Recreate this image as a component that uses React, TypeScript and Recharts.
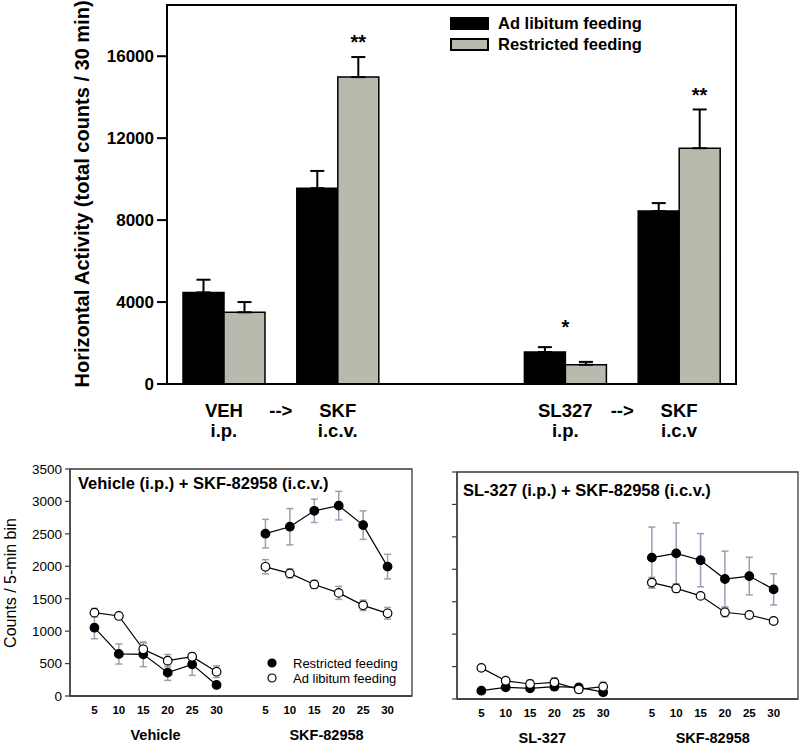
import React from 'react';
import {
  BarChart,
  Bar,
  XAxis,
  YAxis,
  ErrorBar,
  Legend,
  ReferenceDot,
  ReferenceArea,
  Label,
  ScatterChart,
  Scatter,
} from 'recharts';

const FONT = '"Liberation Sans", Arial, Helvetica, sans-serif';
const GRAY_BAR = '#b9b9ad';
const ERR_COLOR = '#9d9db8';
const FRAME = '#3a3a3a';

// ---------- Top chart: total horizontal activity ----------
const groupKeys = ['VEH', 'SKF_A', 'GAP', 'SL327', 'SKF_B'];
const drugLabels = ['VEH', 'SKF', '', 'SL327', 'SKF'];
const routeLabels = ['i.p.', 'i.c.v.', '', 'i.p.', 'i.c.v'];
const arrowAfter = [true, false, false, true, false];
const adLibTotals = [4470, 9560, null, 1560, 8440];
const adLibTotalsErr = [620, 840, null, 240, 390];
const restrictedTotals = [3500, 14980, null, 940, 11510];
const restrictedTotalsErr = [500, 980, null, 140, 1890];
const topYTicks = [0, 4000, 8000, 12000, 16000];

const sigKeys = ['SKF_A', 'SL327', 'SKF_B'];
const sigText = ['**', '*', '**'];
const sigLevel = [16700, 2800, 14100];
const sigOnRestricted = [true, false, true];

// ---------- Bottom charts: 5-min bins ----------
const firstBlockBins = [1, 2, 3, 4, 5, 6];
const secondBlockBins = [8, 9, 10, 11, 12, 13];
const binMinutes = [5, 10, 15, 20, 25, 30];
const bottomYTicks = [0, 500, 1000, 1500, 2000, 2500, 3000, 3500];
const groupLabelPos = [3.5, 10.5];
const dotLegendNames = ['Restricted feeding', 'Ad libitum feeding'];

// Vehicle (i.p.) + SKF-82958 (i.c.v.)
const leftGroupNames = ['Vehicle', 'SKF-82958'];
const vehRestricted = [1053, 648, 643, 360, 488, 170];
const vehRestrictedErr = [170, 155, 190, 120, 170, 30];
const vehAdlib = [1285, 1234, 720, 545, 606, 375];
const vehAdlibErr = [65, 25, 100, 95, 45, 90];
const skfARestricted = [2503, 2610, 2855, 2935, 2635, 1995];
const skfARestrictedErr = [220, 280, 180, 220, 220, 190];
const skfAAdlib = [1992, 1890, 1720, 1590, 1398, 1275];
const skfAAdlibErr = [110, 70, 60, 100, 80, 90];

// SL-327 (i.p.) + SKF-82958 (i.c.v.)
const rightGroupNames = ['SL-327', 'SKF-82958'];
const slRestricted = [128, 180, 165, 190, 178, 105];
const slRestrictedErr = [30, 40, 45, 50, 45, 45];
const slAdlib = [480, 282, 231, 257, 149, 190];
const slAdlibErr = [25, 40, 60, 70, 60, 70];
const skfBRestricted = [2180, 2245, 2140, 1850, 1895, 1690];
const skfBRestrictedErr = [470, 470, 410, 430, 290, 240];
const skfBAdlib = [1795, 1705, 1590, 1337, 1295, 1203];
const skfBAdlibErr = [80, 60, 40, 70, 50, 50];

const topData = groupKeys.map((key, i) => ({
  key,
  adlib: adLibTotals[i],
  restricted: restrictedTotals[i],
  adlibErr: adLibTotalsErr[i] == null ? null : [0, adLibTotalsErr[i]],
  restrictedErr: restrictedTotalsErr[i] == null ? null : [0, restrictedTotalsErr[i]],
}));

const series = (bins: number[], vals: number[], errs: number[]) =>
  bins.map((t, i) => ({ t, v: vals[i], e: errs[i] }));

const minuteFor = (t: number) => {
  let i = firstBlockBins.indexOf(t);
  if (i < 0) i = secondBlockBins.indexOf(t);
  return i < 0 ? '' : String(binMinutes[i]);
};

const TopTick = (props: any) => {
  const { x, y, payload, width } = props;
  const i = groupKeys.indexOf(payload.value);
  const w = typeof width === 'number' && width > 0 ? width : 569;
  const half = w / groupKeys.length / 2;
  const st = { fontFamily: FONT, fontWeight: 700, fontSize: 18.5, fill: '#000' } as any;
  return (
    <g>
      <text x={x} y={y + 33} textAnchor="middle" {...st}>{drugLabels[i]}</text>
      <text x={x} y={y + 53} textAnchor="middle" {...st}>{routeLabels[i]}</text>
      {arrowAfter[i] ? (
        <text x={x + half} y={y + 33} textAnchor="middle" {...st}>{'-->'}</text>
      ) : null}
    </g>
  );
};

const makeBinTick = (groupNames: string[]) => (props: any) => {
  const { x, y, payload, width } = props;
  const t = payload.value;
  const w = typeof width === 'number' && width > 0 ? width : 342;
  const step = w / 14;
  const block = t === firstBlockBins[0] ? 0 : t === secondBlockBins[0] ? 1 : -1;
  const firstBin = block === 0 ? firstBlockBins[0] : secondBlockBins[0];
  return (
    <g>
      <text
        x={x}
        y={y + 8.2}
        textAnchor="middle"
        fontFamily={FONT}
        fontWeight={700}
        fontSize={11.5}
        fill="#000"
      >
        {minuteFor(t)}
      </text>
      {block >= 0 ? (
        <text
          x={x + (groupLabelPos[block] - firstBin) * step}
          y={y + 34}
          textAnchor="middle"
          fontFamily={FONT}
          fontWeight={700}
          fontSize={14.5}
          fill="#000"
        >
          {groupNames[block]}
        </text>
      ) : null}
    </g>
  );
};

const TopLegend = (props: any) => {
  const payload = props.payload || [];
  return (
    <div>
      {payload.map((p: any) => (
        <div key={p.value} style={{ display: 'flex', alignItems: 'center', height: 21 }}>
          <div
            style={{
              width: 39,
              height: 13,
              background: p.color,
              border: '2px solid #000',
              boxSizing: 'border-box',
            }}
          />
          <span
            style={{
              marginLeft: 9,
              fontWeight: 700,
              fontSize: 16.5,
              fontFamily: FONT,
              color: '#000',
              whiteSpace: 'nowrap',
            }}
          >
            {p.value}
          </span>
        </div>
      ))}
    </div>
  );
};

const DotLegend = (props: any) => {
  const payload = props.payload || [];
  const items = dotLegendNames
    .map((n) => payload.find((p: any) => p.value === n))
    .filter(Boolean);
  return (
    <div>
      {items.map((p: any) => (
        <div key={p.value} style={{ display: 'flex', alignItems: 'center', height: 15 }}>
          <svg width={10} height={10}>
            <circle cx={5} cy={5} r={4} fill={p.color} stroke="#000" strokeWidth={1.2} />
          </svg>
          <span
            style={{
              marginLeft: 16,
              fontSize: 13,
              fontFamily: FONT,
              color: '#000',
              whiteSpace: 'nowrap',
            }}
          >
            {p.value}
          </span>
        </div>
      ))}
    </div>
  );
};

const Marker = (props: any) => {
  const { cx, cy, fill } = props;
  if (cx == null || cy == null) return null;
  return <circle cx={cx} cy={cy} r={4.3} fill={fill} stroke="#000" strokeWidth={1.2} />;
};

const BinChart = (props: {
  width: number;
  marginTop: number;
  marginRight: number;
  yAxisWidth: number;
  showYLabels: boolean;
  xAxisHeight: number;
  groupNames: string[];
  restrictedA: any[];
  restrictedB: any[];
  adlibA: any[];
  adlibB: any[];
  showLegend: boolean;
}) => {
  const {
    width,
    marginTop,
    marginRight,
    yAxisWidth,
    showYLabels,
    xAxisHeight,
    groupNames,
    restrictedA,
    restrictedB,
    adlibA,
    adlibB,
    showLegend,
  } = props;
  const lineStyle = { stroke: '#000', strokeWidth: 1.2 };
  const BinTick = makeBinTick(groupNames);
  return (
    <ScatterChart
      width={width}
      height={301}
      margin={{ top: marginTop, right: marginRight, left: 0, bottom: 0 }}
    >
      <XAxis
        type="number"
        dataKey="t"
        domain={[0, 14]}
        ticks={[...firstBlockBins, ...secondBlockBins]}
        interval={0}
        height={xAxisHeight}
        tickSize={0}
        tickMargin={10}
        tickLine={false}
        axisLine={{ stroke: FRAME, strokeWidth: 1.3 }}
        tick={<BinTick />}
        allowDataOverflow
      />
      <YAxis
        type="number"
        domain={[0, 3500]}
        ticks={bottomYTicks}
        interval={0}
        width={yAxisWidth}
        tickSize={5}
        tickMargin={3}
        tickFormatter={(v: number) => (showYLabels ? String(v) : '')}
        axisLine={{ stroke: FRAME, strokeWidth: 1.3 }}
        tickLine={{ stroke: FRAME, strokeWidth: 1.2 }}
        tick={{ fontFamily: FONT, fontSize: 13.5, fill: '#000' }}
        allowDataOverflow
      >
        {showYLabels ? (
          <Label
            content={() => (
              <text
                x={10}
                y={138}
                transform="rotate(-90 10 138)"
                textAnchor="middle"
                dominantBaseline="central"
                fontFamily={FONT}
                fontSize={16}
                fill="#000"
              >
                Counts / 5-min bin
              </text>
            )}
          />
        ) : null}
      </YAxis>
      <ReferenceArea
        x1={0}
        x2={14}
        y1={0}
        y2={3500}
        fill="none"
        fillOpacity={0}
        stroke={FRAME}
        strokeWidth={1.3}
        ifOverflow="visible"
      />
      {showLegend ? (
        <Legend
          layout="vertical"
          align="center"
          verticalAlign="middle"
          content={<DotLegend />}
          wrapperStyle={{ left: 267, top: 210.5, width: 'auto' }}
        />
      ) : null}
      <Scatter
        name="Restricted feeding"
        data={restrictedA}
        dataKey="v"
        fill="#000"
        line={lineStyle}
        lineType="joint"
        shape={Marker}
        isAnimationActive={false}
      >
        <ErrorBar dataKey="e" direction="y" width={3.5} stroke={ERR_COLOR} strokeWidth={1.5} />
      </Scatter>
      <Scatter
        name="Restricted feeding, 2nd block"
        legendType="none"
        data={restrictedB}
        dataKey="v"
        fill="#000"
        line={lineStyle}
        lineType="joint"
        shape={Marker}
        isAnimationActive={false}
      >
        <ErrorBar dataKey="e" direction="y" width={3.5} stroke={ERR_COLOR} strokeWidth={1.5} />
      </Scatter>
      <Scatter
        name="Ad libitum feeding"
        data={adlibA}
        dataKey="v"
        fill="#fff"
        line={lineStyle}
        lineType="joint"
        shape={Marker}
        isAnimationActive={false}
      >
        <ErrorBar dataKey="e" direction="y" width={3.5} stroke={ERR_COLOR} strokeWidth={1.5} />
      </Scatter>
      <Scatter
        name="Ad libitum feeding, 2nd block"
        legendType="none"
        data={adlibB}
        dataKey="v"
        fill="#fff"
        line={lineStyle}
        lineType="joint"
        shape={Marker}
        isAnimationActive={false}
      >
        <ErrorBar dataKey="e" direction="y" width={3.5} stroke={ERR_COLOR} strokeWidth={1.5} />
      </Scatter>
    </ScatterChart>
  );
};

const titleStyle = (left: number, baseline: number): React.CSSProperties => ({
  position: 'absolute',
  left,
  top: baseline - 0.846 * 16.5,
  fontFamily: FONT,
  fontWeight: 700,
  fontSize: 16.5,
  lineHeight: '16.5px',
  color: '#000',
  whiteSpace: 'nowrap',
});

export default function App() {
  return (
    <div
      style={{
        position: 'absolute',
        left: 0,
        top: 0,
        width: 800,
        height: 746,
        background: '#fff',
        fontFamily: FONT,
        overflow: 'hidden',
      }}
    >
      <div style={{ position: 'absolute', left: 0, top: 0 }}>
        <BarChart
          width={800}
          height={445}
          data={topData}
          margin={{ top: 5, right: 64, left: 0, bottom: 0 }}
          barSize={41}
          barGap={0}
        >
          <XAxis
            dataKey="key"
            height={61}
            tickSize={0}
            tickMargin={0}
            tickLine={false}
            interval={0}
            axisLine={{ stroke: '#000', strokeWidth: 2 }}
            tick={<TopTick />}
          />
          <YAxis
            type="number"
            domain={[0, 18500]}
            ticks={topYTicks}
            width={167}
            tickSize={10}
            tickMargin={3}
            axisLine={{ stroke: '#000', strokeWidth: 2 }}
            tickLine={{ stroke: '#000', strokeWidth: 2 }}
            tick={{ fontFamily: FONT, fontWeight: 700, fontSize: 17, fill: '#000' }}
            allowDataOverflow
          >
            <Label
              content={() => (
                <text
                  x={82}
                  y={194}
                  transform="rotate(-90 82 194)"
                  textAnchor="middle"
                  dominantBaseline="central"
                  fontFamily={FONT}
                  fontWeight={700}
                  fontSize={20}
                  fill="#000"
                >
                  Horizontal Activity (total counts / 30 min)
                </text>
              )}
            />
          </YAxis>
          <ReferenceArea
            x1={groupKeys[0]}
            x2={groupKeys[groupKeys.length - 1]}
            y1={0}
            y2={18500}
            fill="none"
            fillOpacity={0}
            stroke="#000"
            strokeWidth={2}
            ifOverflow="visible"
          />
          <Legend
            layout="vertical"
            align="center"
            verticalAlign="middle"
            content={<TopLegend />}
            wrapperStyle={{ left: 450, top: 13, width: 'auto' }}
          />
          <Bar
            dataKey="adlib"
            name="Ad libitum feeding"
            fill="#000"
            stroke="#000"
            strokeWidth={1.5}
            isAnimationActive={false}
          >
            <ErrorBar dataKey="adlibErr" direction="y" width={7} stroke="#000" strokeWidth={2} />
          </Bar>
          <Bar
            dataKey="restricted"
            name="Restricted feeding"
            fill={GRAY_BAR}
            stroke="#000"
            strokeWidth={1.5}
            isAnimationActive={false}
          >
            <ErrorBar dataKey="restrictedErr" direction="y" width={7} stroke="#000" strokeWidth={2} />
          </Bar>
          {sigKeys.map((k, i) => (
            <ReferenceDot
              key={k}
              x={k}
              y={sigLevel[i]}
              r={0}
              fill="none"
              stroke="none"
              label={{
                value: sigText[i],
                position: 'center',
                dx: sigOnRestricted[i] ? 20.5 : 0,
                fill: '#000',
                fontSize: 20,
                fontWeight: 700,
                fontFamily: FONT,
              }}
            />
          ))}
        </BarChart>
      </div>

      <div style={{ position: 'absolute', left: 0, top: 445 }}>
        <BinChart
          width={420}
          marginTop={24}
          marginRight={8}
          yAxisWidth={70}
          showYLabels
          xAxisHeight={50}
          groupNames={leftGroupNames}
          restrictedA={series(firstBlockBins, vehRestricted, vehRestrictedErr)}
          restrictedB={series(secondBlockBins, skfARestricted, skfARestrictedErr)}
          adlibA={series(firstBlockBins, vehAdlib, vehAdlibErr)}
          adlibB={series(secondBlockBins, skfAAdlib, skfAAdlibErr)}
          showLegend
        />
      </div>

      <div style={{ position: 'absolute', left: 420, top: 445 }}>
        <BinChart
          width={380}
          marginTop={27}
          marginRight={2}
          yAxisWidth={37}
          showYLabels={false}
          xAxisHeight={47}
          groupNames={rightGroupNames}
          restrictedA={series(firstBlockBins, slRestricted, slRestrictedErr)}
          restrictedB={series(secondBlockBins, skfBRestricted, skfBRestrictedErr)}
          adlibA={series(firstBlockBins, slAdlib, slAdlibErr)}
          adlibB={series(secondBlockBins, skfBAdlib, skfBAdlibErr)}
          showLegend={false}
        />
      </div>

      <div style={titleStyle(78, 489)}>Vehicle (i.p.) + SKF-82958 (i.c.v.)</div>
      <div style={titleStyle(463, 496)}>SL-327 (i.p.) + SKF-82958 (i.c.v.)</div>
    </div>
  );
}
